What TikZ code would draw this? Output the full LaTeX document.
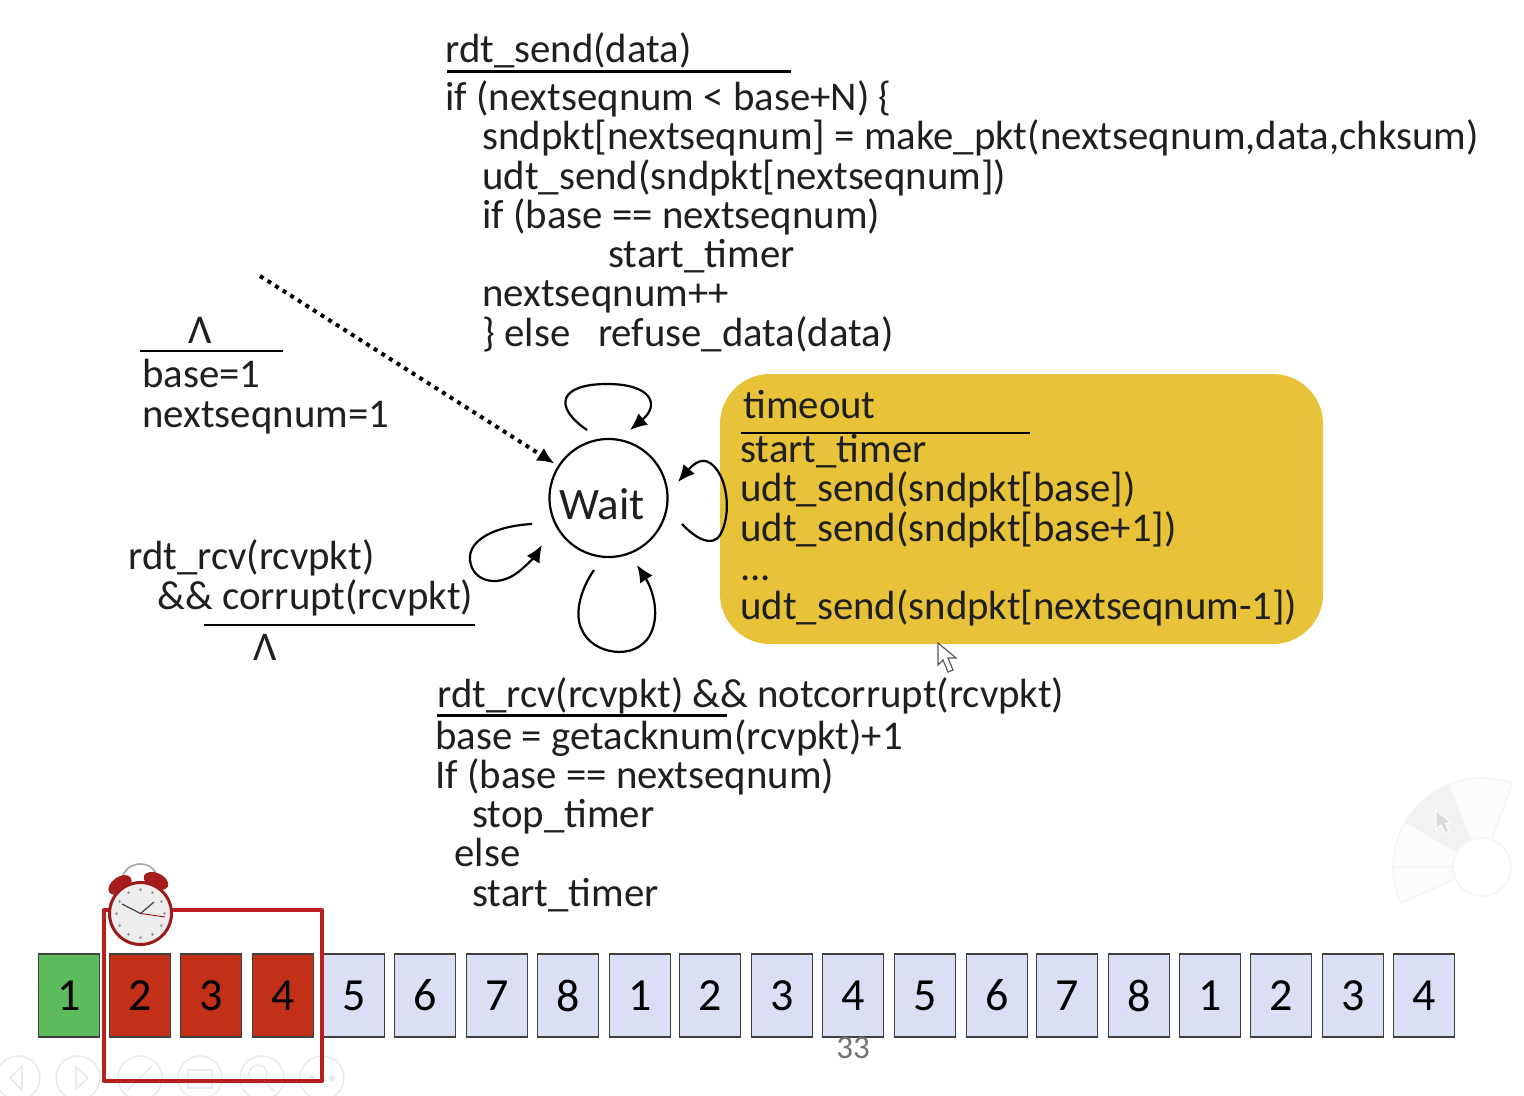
\documentclass[tikz,border=0pt]{standalone}
\usepackage{fontspec}
\setmainfont{Carlito}
\usetikzlibrary{arrows.meta}
\definecolor{boxblue}{HTML}{DADFF5}
\definecolor{boxgreen}{HTML}{5CBB5C}
\definecolor{boxred}{HTML}{C23018}
\definecolor{framered}{HTML}{B8201F}
\definecolor{guardyellow}{HTML}{E8C33A}
\definecolor{faint}{HTML}{EBEBEB}
\tikzset{
  codetext/.style={anchor=base west, inner sep=0pt, align=left, text=black!88,
    font=\fontsize{20.4}{19.6}\selectfont},
  guardline/.style={line width=1.1pt},
  state/.style={circle, draw, line width=1.1pt, minimum size=59pt, inner sep=0pt},
  fsmarrow/.style={line width=1.1pt, -{Latex[length=8.5pt,width=7.5pt]}},
  seqbox/.style={draw=black!75, line width=0.7pt, minimum width=30.5pt, minimum height=41.5pt,
    inner sep=0pt, font=\fontsize{23}{23}\selectfont},
  toolicon/.style={draw=faint, line width=0.8pt},
  menuline/.style={draw=black!4, line width=0.8pt},
}
\begin{document}
\begin{tikzpicture}[x=0.5pt,y=-0.5pt]
\useasboundingbox (0,0) rectangle (1524,1096);

% Faint slide controls
\foreach \i/\cx in {1/18,2/78,3/140,4/200,5/262,6/322}
  \node[circle, toolicon, minimum size=22pt, inner sep=0pt] (tool\i) at (\cx,1078) {};
\draw[toolicon] (22,1066) -- (10,1078) -- (22,1090) -- cycle;
\draw[toolicon] (76,1067) -- (88,1078) -- (76,1089) -- cycle;
\draw[toolicon] (128,1090) -- (152,1066);
\draw[toolicon] (188,1070) rectangle (212,1088);
\draw[toolicon] (258,1074) circle (9) (264,1081) -- (274,1091);
\fill[faint] (312,1078) circle (3) (322,1078) circle (3) (332,1078) circle (3);

% Faint radial menu
\draw[menuline, fill=black!1] (1482,867) ++(-70:89) arc[start angle=-70, end angle=-204, radius=89]
  -- ++(-24:60) arc[start angle=-204, end angle=-70, radius=29] -- cycle;
\fill[black!5] (1482,867) ++(-112:89) arc[start angle=-112, end angle=-150, radius=89]
  -- ++(30:60) arc[start angle=-150, end angle=-112, radius=29] -- cycle;
\draw[menuline, fill=white] (1482,867) circle (29);
\draw[menuline] (1482,867) ++(180:29) -- ++(180:60);
\draw[fill=black!14, draw=white, line width=0.5pt] (1436,810) -- (1436,829) -- (1441,825) -- (1445,833) -- (1449,831) -- (1445,823) -- (1451,823) -- cycle;

% Send transition
\node[codetext] (sendguard) at (445,63) {rdt\_send(data)};
\draw[guardline, line width=1.5pt] (447,72) -- (791,72);
\node[codetext] (sendaction) at (445,346) {if (nextseqnum < base+N) \{\\
  \hspace*{18.5pt}sndpkt[nextseqnum] = make\_pkt(nextseqnum,data,chksum)\\
  \hspace*{18.5pt}udt\_send(sndpkt[nextseqnum])\\
  \hspace*{18.5pt}if (base == nextseqnum)\\
  \hspace*{81.5pt}start\_timer\\
  \hspace*{18.5pt}nextseqnum++\\
  \hspace*{18.5pt}\} else \ \ refuse\_data(data)};

% Init transition
\node[codetext, anchor=center] (initguard) at (200,330) {Λ};
\draw[guardline] (140,351) -- (283,351);
\node[codetext] (initaction) at (142,427) {base=1\\nextseqnum=1};

% Timeout transition
\node[draw=none, fill=guardyellow, rounded corners=25pt, minimum width=301.5pt, minimum height=135pt, inner sep=0pt] (timeoutbox) at (1021.5,509) {};
\node[codetext] (timeoutguard) at (743,418) {timeout};
\draw[guardline] (741,433) -- (1030,433);
\node[codetext] (timeoutaction) at (740,619.5) {start\_timer\\
  udt\_send(sndpkt[base])\\
  udt\_send(sndpkt[base+1])\\
  ...\\
  udt\_send(sndpkt[nextseqnum-1])};

% State and its loops
\node[state] (wait) at (608.5,498) {};
\node[inner sep=0pt, text=black!88, font=\fontsize{22.5}{22.5}\selectfont] (waitlabel) at (602,504) {Wait};
\coordinate (initstart) at (260,276);
\draw[line width=2pt, dash pattern=on 2pt off 2.5pt, -{Latex[length=8.5pt,width=7.5pt]}, shorten >=2pt] (initstart) -- (wait);

\coordinate (topa) at (587,430);
\coordinate (topb) at (630,430);
\draw[fsmarrow] (topa) .. controls (552,406) and (560,384) .. (607,384) .. controls (652,384) and (660,405) .. (topb);

\coordinate (righta) at (682,524);
\coordinate (rightb) at (678,482);
\draw[fsmarrow] (righta) .. controls (695,538) and (712,548) .. (720,535) .. controls (732,515) and (728,475) .. (710,463) .. controls (700,456) and (690,468) .. (rightb);

\coordinate (lefta) at (532,524);
\coordinate (leftb) at (542,545);
\draw[fsmarrow] (lefta) .. controls (495,526) and (468,540) .. (470,560) .. controls (472,582) and (500,590) .. (523,568) .. controls (530,562) and (536,555) .. (leftb);

\coordinate (bottoma) at (594,570);
\coordinate (bottomb) at (637,565);
\draw[fsmarrow] (bottoma) .. controls (580,590) and (574,615) .. (582,630) .. controls (592,654) and (635,662) .. (650,635) .. controls (662,612) and (650,585) .. (bottomb);

% Corrupt transition
\node[codetext] (corruptguard) at (128,609) {rdt\_rcv(rcvpkt)\\
  \hspace*{14.5pt}\&\& corrupt(rcvpkt)};
\draw[guardline] (204,625) -- (475,625);
\node[codetext, anchor=center] (corruptaction) at (265,647) {Λ};

% Ack transition
\node[codetext] (ackguard) at (437,707) {rdt\_rcv(rcvpkt) \&\& notcorrupt(rcvpkt)};
\draw[guardline, line width=1.5pt] (437,715) -- (727,715);
\node[codetext] (ackaction) at (435,906) {base = getacknum(rcvpkt)+1\\
  If (base == nextseqnum)\\
  \hspace*{18.5pt}stop\_timer\\
  \hspace*{9.5pt}else\\
  \hspace*{18.5pt}start\_timer};

% Mouse pointer
\draw[fill=white, draw=black!65, line width=0.6pt] (938,643) -- (938,665) -- (943,660) -- (948,672) -- (953,670) -- (948,658) -- (956,658) -- cycle;

% Sequence numbers
\foreach \i/\n/\c/\cx in {0/1/boxgreen/69,1/2/boxred/140,2/3/boxred/211,3/4/boxred/283,4/5/boxblue/354,5/6/boxblue/425,6/7/boxblue/497,7/8/boxblue/568,
    8/1/boxblue/640,9/2/boxblue/710,10/3/boxblue/782,11/4/boxblue/853,12/5/boxblue/925,13/6/boxblue/997,14/7/boxblue/1067,15/8/boxblue/1139,
    16/1/boxblue/1210,17/2/boxblue/1281,18/3/boxblue/1353,19/4/boxblue/1424}
  \node[seqbox, fill=\c] (seq\i) at (\cx,995.5) {\n};
\node[inner sep=0pt, text=black!55, font=\fontsize{16.5}{16.5}\selectfont] (pagenum) at (853,1048) {33};

% Window and timer
\draw[framered, line width=2pt, line join=round] (104,910) rectangle (322,1081);
\draw[black!35, line width=0.8pt, fill=white] (121,884) .. controls (122,858) and (156,858) .. (158,880);
\fill[framered!90!black] (120,885) ellipse[x radius=13, y radius=8, rotate=35];
\fill[framered!90!black] (156,881) ellipse[x radius=13, y radius=8, rotate=-25];
\node[circle, draw=framered!85!black, fill=white!93!black, line width=1.5pt, minimum size=31pt, inner sep=0pt] (timer) at (140.5,913.5) {};
\foreach \a in {0,30,...,330}
  \fill[black!40] (timer.center) ++(\a:24) circle (1.5);
\draw[black!75, line width=0.6pt] (timer.center) -- (154,902);
\draw[black!75, line width=0.6pt] (timer.center) -- (122,904);
\draw[red!60!black, line width=0.4pt] (timer.center) -- (165,917);
\end{tikzpicture}
\end{document}
